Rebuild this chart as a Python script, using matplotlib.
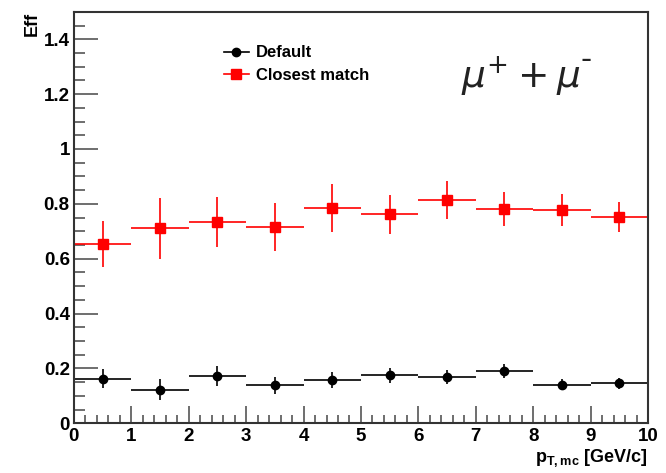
import matplotlib
matplotlib.use("Agg")
import matplotlib.pyplot as plt
from matplotlib.ticker import MultipleLocator
from matplotlib.lines import Line2D
import numpy as np

plt.rcParams['font.family'] = ['Liberation Sans', 'DejaVu Sans']
plt.rcParams['mathtext.fontset'] = 'custom'
plt.rcParams['mathtext.it'] = 'DejaVu Sans:italic'
plt.rcParams['mathtext.rm'] = 'DejaVu Sans'

bin_centers = [0.5, 1.5, 2.5, 3.5, 4.5, 5.5, 6.5, 7.5, 8.5, 9.5]
bin_halfwidth = [0.5] * 10

default_eff = [0.163, 0.122, 0.173, 0.138, 0.157, 0.175, 0.170, 0.191, 0.141, 0.146]
default_err = [0.035, 0.038, 0.036, 0.031, 0.030, 0.028, 0.026, 0.025, 0.019, 0.020]

closest_eff = [0.654, 0.711, 0.734, 0.716, 0.785, 0.762, 0.815, 0.782, 0.778, 0.753]
closest_err = [0.083, 0.111, 0.090, 0.088, 0.087, 0.072, 0.070, 0.062, 0.057, 0.054]

fig = plt.figure(figsize=(6.66, 4.73), dpi=100)
ax = fig.add_axes([0.111, 0.105, 0.862, 0.870])

ax.errorbar(bin_centers, default_eff, xerr=bin_halfwidth, yerr=default_err,
            fmt='o', color='black', ms=6, elinewidth=1.2, capsize=0)
ax.errorbar(bin_centers, closest_eff, xerr=bin_halfwidth, yerr=closest_err,
            fmt='s', color='#ff0000', ms=7, elinewidth=1.2, capsize=0)

ax.set_xlim(0, 10)
ax.set_ylim(0, 1.5)
ax.xaxis.set_major_locator(MultipleLocator(1))
ax.xaxis.set_minor_locator(MultipleLocator(0.2))
ax.yaxis.set_minor_locator(MultipleLocator(0.05))
ax.set_yticks(np.arange(0, 1.41, 0.2))
ax.set_yticklabels(['0', '0.2', '0.4', '0.6', '0.8', '1', '1.2', '1.4'])

ax.tick_params(axis='both', which='both', direction='in', top=False, right=False,
               labelsize=13.5, color='#555555')
ax.tick_params(axis='y', which='major', length=17, width=1.2)
ax.tick_params(axis='y', which='minor', length=8, width=1.2)
ax.tick_params(axis='x', which='major', length=12, width=1.2)
ax.tick_params(axis='x', which='minor', length=6, width=1.2)
for lab in ax.get_xticklabels() + ax.get_yticklabels():
    lab.set_fontweight('bold')
ax.tick_params(axis='x', pad=3)
ax.tick_params(axis='y', pad=3)

for s in ax.spines.values():
    s.set_linewidth(1.5)
    s.set_color('#333333')

ax.set_ylabel('Eff', fontsize=13, fontweight='bold', loc='top', labelpad=2)
ax.set_xlabel(r'p$_{\mathregular{T,mc}}$ [GeV/c]', fontsize=13, fontweight='bold',
              loc='right', labelpad=2)

handles = [
    Line2D([], [], color='black', marker='o', ms=6, lw=1.2),
    Line2D([], [], color='#ff0000', marker='s', ms=7, lw=1.2),
]
ax.legend(handles, ['Default', 'Closest match'], loc='upper left',
          bbox_to_anchor=(0.235, 0.955), frameon=False,
          handlelength=1.5, handletextpad=0.4, labelspacing=0.45,
          prop={'weight': 'bold', 'size': 12})

ax.text(0.675, 0.815, r'$\mu^{+} + \mu$',
        transform=ax.transAxes, fontsize=27, color='#222222')
ax.text(0.883, 0.862, '-', transform=ax.transAxes, fontsize=24, color='#222222')

fig.savefig('out.png', dpi=100)
